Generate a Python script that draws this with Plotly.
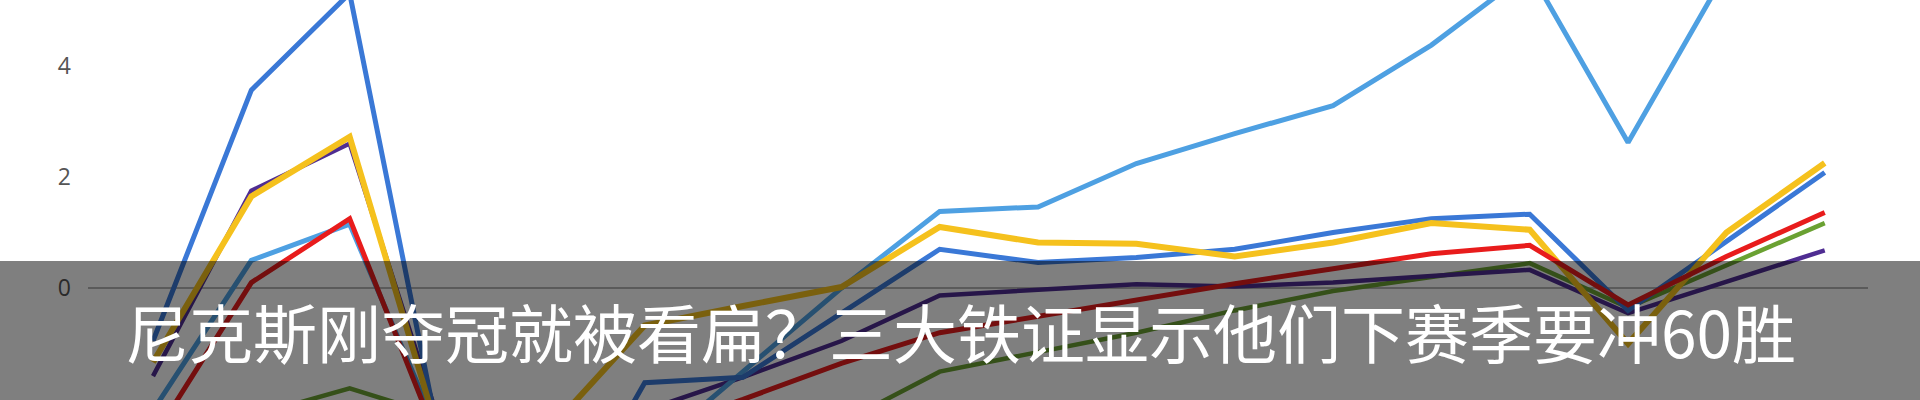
import plotly.graph_objects as go

# ---- data ----
periods = list(range(1, 19))
y_ticks = [-2, 0, 2, 4]
title_text = "尼克斯刚夺冠就被看扁？三大铁证显示他们下赛季要冲60胜"

royal_blue = [-0.95, 3.56, 5.3, -3.5, -4.8, -1.7, -1.6, -0.45, 0.7, 0.46, 0.55, 0.7, 1.0, 1.25, 1.33, -0.4, 0.85, 2.08]
sky_blue = [-2.2, 0.5, 1.15, -3.0, -3.5, -3.0, -1.5, 0.0, 1.38, 1.46, 2.24, 2.78, 3.28, 4.37, 5.7, 2.62, 5.7, 6.4]
yellow = [-1.33, 1.65, 2.72, -3.2, -2.6, -0.67, -0.32, 0.02, 1.1, 0.82, 0.8, 0.57, 0.82, 1.17, 1.05, -1.0, 1.0, 2.25]
red = [-2.7, 0.1, 1.25, -3.2, -3.0, -2.6, -2.0, -1.35, -0.8, -0.5, -0.2, 0.08, 0.35, 0.62, 0.77, -0.3, 0.57, 1.36]
green = [-2.8, -2.3, -1.8, -2.35, -3.0, -3.2, -3.0, -2.42, -1.5, -1.15, -0.8, -0.4, -0.05, 0.2, 0.45, -0.35, 0.42, 1.17]
purple = [-1.58, 1.75, 2.6, -2.9, -2.7, -2.2, -1.6, -0.95, -0.13, -0.02, 0.07, 0.03, 0.1, 0.22, 0.33, -0.45, 0.12, 0.68]

series = [
    ("green", green, "#6aa132", 4.5),
    ("purple", purple, "#4f2d92", 4.5),
    ("sky", sky_blue, "#4ea0e2", 5),
    ("blue", royal_blue, "#3a78d6", 5),
    ("yellow", yellow, "#f5c11d", 6),
    ("red", red, "#e81c1c", 5),
]

fig = go.Figure()
for name, vals, color, w in series:
    fig.add_trace(go.Scatter(
        x=periods, y=vals, mode="lines", name=name,
        line=dict(color=color, width=w),
        showlegend=False, hoverinfo="skip",
    ))

fig.update_layout(
    width=1920, height=400,
    margin=dict(l=88, r=52, t=0, b=0),
    paper_bgcolor="white", plot_bgcolor="white",
    showlegend=False,
)
fig.update_xaxes(range=[0.339, 18.44], visible=False)
fig.update_yaxes(
    range=[-2.01, 5.18], tickvals=y_ticks, showgrid=False,
    zeroline=True, zerolinecolor="#b4b4b4", zerolinewidth=2,
    showline=False, ticks="",
    tickfont=dict(family="Open Sans", size=23, color="#555555"),
    ticklabelstandoff=16,
)

# dark translucent caption banner
fig.add_shape(
    type="rect", xref="paper", yref="paper",
    x0=-0.1, x1=1.1, y0=-0.05, y1=0.3475,
    fillcolor="rgba(0,0,0,0.5)", line=dict(width=0), layer="above",
)
fig.add_annotation(
    text=title_text, xref="paper", yref="paper",
    x=(960 - 88) / 1780, y=(400 - 330) / 400,
    xanchor="center", yanchor="middle", showarrow=False,
    font=dict(family="Noto Sans CJK SC", size=64, color="white"),
)

fig.write_html(
    "out.html",
    config={"displayModeBar": False},
    post_script="document.body.style.margin='0';document.body.style.overflow='hidden';",
)
